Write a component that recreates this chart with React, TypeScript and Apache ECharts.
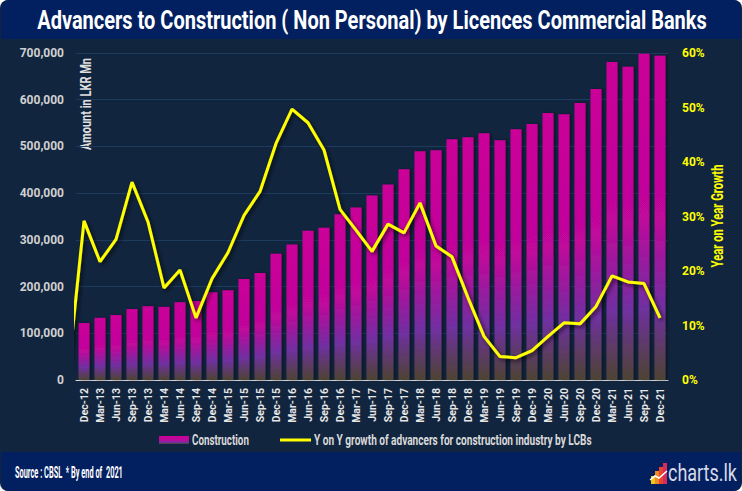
import React, { useEffect, useRef } from "react";
import * as echarts from "echarts";

const categories = [
  "Dec-12","Mar-13","Jun-13","Sep-13","Dec-13","Mar-14","Jun-14","Sep-14","Dec-14",
  "Mar-15","Jun-15","Sep-15","Dec-15","Mar-16","Jun-16","Sep-16","Dec-16",
  "Mar-17","Jun-17","Sep-17","Dec-17","Mar-18","Jun-18","Sep-18","Dec-18",
  "Mar-19","Jun-19","Sep-19","Dec-19","Mar-20","Jun-20","Sep-20","Dec-20",
  "Mar-21","Jun-21","Sep-21","Dec-21",
];

const construction = [
  122000, 133000, 139000, 152000, 158000, 156500, 166500, 169000, 188000,
  192000, 216000, 229000, 270000, 290000, 319500, 326000, 354700,
  369000, 395000, 418600, 451000, 489600, 491800, 515500, 519800,
  528000, 513000, 537000, 548000, 571500, 569000, 593000, 623000,
  681000, 670600, 698600, 694000,
];

// Sep-12 value sits just before the first category and is clipped at the plot edge
const growthPrev = 1.2;
const growth = [
  29.2, 21.7, 25.8, 36.3, 29.0, 16.9, 20.2, 11.4, 18.6,
  23.4, 30.2, 34.6, 43.4, 49.7, 47.2, 42.2, 31.3,
  27.5, 23.6, 28.6, 27.0, 32.5, 24.6, 22.6, 15.1,
  8.0, 4.3, 4.1, 5.4, 8.0, 10.5, 10.3, 13.5,
  19.1, 18.0, 17.7, 11.4,
];

const leftTicks = { min: 0, max: 700000, interval: 100000 };
const rightTicks = { min: 0, max: 60, interval: 10 };

const barName = "Construction";
const lineName = "Y on Y growth of advancers for construction industry by LCBs";
const titleText = "Advancers to Construction ( Non Personal) by Licences Commercial Banks";

const FONT = "Roboto, 'Liberation Sans', sans-serif";

function measure(text: string, font: string): number {
  const c = document.createElement("canvas");
  const ctx = c.getContext("2d");
  if (!ctx) return text.length * 7;
  ctx.font = font;
  return ctx.measureText(text).width;
}

function fitText(text: string, font: string, target: number, base: any) {
  const w = measure(text, font);
  const s = w > 0 ? target / w : 1;
  return {
    type: "text",
    ...base,
    scaleX: s,
    style: { text, font, ...(base.style || {}) },
  };
}

export default function App() {
  const ref = useRef<HTMLDivElement>(null);

  useEffect(() => {
    document.body.style.margin = "0";
    if (!ref.current) return;
    const chart = echarts.init(ref.current, undefined, { renderer: "svg" });

    const lineData: [number, number][] = [[-1, growthPrev]];
    growth.forEach((v, i) => lineData.push([i, v]));

    const gradStops = [
      { offset: 0, color: "#CC0099" },
      { offset: 0.5, color: "#C0079B" },
      { offset: 0.78, color: "#7030A0" },
      { offset: 1, color: "#4D4432" },
    ];
    const barGradient = new echarts.graphic.LinearGradient(0, 0, 0, 1, gradStops);
    const legendGradient = new echarts.graphic.LinearGradient(0, 0, 0, 1, [
      { offset: 0, color: "#CC0099" },
      { offset: 0.55, color: "#B80C9C" },
      { offset: 0.8, color: "#7030A0" },
      { offset: 1, color: "#4D4432" },
    ]);

    const option: any = {
      animation: false,
      backgroundColor: "transparent",
      textStyle: { fontFamily: FONT },
      grid: { left: 76, right: 74, top: 53, bottom: 111, containLabel: false },
      legend: { show: false },
      xAxis: [
        {
          type: "category",
          data: categories,
          boundaryGap: true,
          axisLine: { show: true, lineStyle: { color: "#D9D9D9", width: 1 } },
          axisTick: { show: false },
          axisLabel: {
            rotate: 90,
            interval: 0,
            color: "#E6E6E6",
            fontSize: 10.5,
            fontWeight: "bold",
            fontFamily: FONT,
            margin: 8,
          },
          splitLine: { show: false },
        },
        {
          type: "value",
          min: -0.5,
          max: 36.5,
          show: false,
        },
      ],
      yAxis: [
        {
          type: "value",
          min: leftTicks.min,
          max: leftTicks.max,
          interval: leftTicks.interval,
          axisLine: { show: false },
          axisTick: { show: false },
          axisLabel: {
            color: "#D0D0D0",
            fontSize: 12,
            fontWeight: "bold",
            fontFamily: FONT,
            margin: 12,
            formatter: (v: number) => v.toLocaleString("en-US"),
          },
          splitLine: { show: true, lineStyle: { color: "#1D3A5F", width: 1 } },
        },
        {
          type: "value",
          min: rightTicks.min,
          max: rightTicks.max,
          interval: rightTicks.interval,
          axisLine: { show: false },
          axisTick: { show: false },
          axisLabel: {
            color: "#FFFF00",
            fontSize: 12,
            fontWeight: "bold",
            fontFamily: FONT,
            margin: 14,
            formatter: "{value}%",
          },
          splitLine: { show: false },
        },
      ],
      series: [
        {
          name: barName,
          type: "bar",
          xAxisIndex: 0,
          yAxisIndex: 0,
          data: construction,
          barWidth: 11,
          itemStyle: {
            color: barGradient,
            shadowColor: "rgba(0,0,0,0.45)",
            shadowBlur: 3,
            shadowOffsetX: 2,
            shadowOffsetY: 0,
          },
        },
        {
          name: lineName,
          type: "line",
          xAxisIndex: 1,
          yAxisIndex: 1,
          data: lineData,
          symbol: "none",
          clip: true,
          lineStyle: {
            color: "#FFFF00",
            width: 3,
            shadowColor: "rgba(0,0,0,0.7)",
            shadowBlur: 4,
            shadowOffsetX: 2,
            shadowOffsetY: 2,
          },
          itemStyle: { color: "#FFFF00" },
          z: 5,
        },
      ],
      graphic: [
        {
          type: "rect",
          z: -10,
          shape: { x: 0, y: 0, width: 742, height: 491, r: 8 },
          style: { fill: "#12253F" },
        },
        {
          type: "rect",
          z: -9,
          shape: { x: 1, y: 0, width: 740, height: 39, r: [8, 8, 0, 0] },
          style: { fill: "#02205F" },
        },
        {
          type: "rect",
          z: -9,
          shape: { x: 1, y: 452, width: 740, height: 39, r: [0, 0, 8, 8] },
          style: { fill: "#02205F" },
        },
        fitText(titleText, `bold 25px ${FONT}`, 670, {
          x: 372,
          y: 21,
          style: { fill: "#FFFFFF", align: "center", verticalAlign: "middle" },
        }),
        fitText("Amount in LKR Mn", `bold 14px ${FONT}`, 92, {
          x: 86,
          y: 104,
          rotation: Math.PI / 2,
          style: { fill: "#E0E0E0", align: "center", verticalAlign: "middle" },
        }),
        fitText("Year on Year Growth", `bold 16px ${FONT}`, 103, {
          x: 717,
          y: 216,
          rotation: Math.PI / 2,
          style: { fill: "#FFFF00", align: "center", verticalAlign: "middle" },
        }),
        // legend
        {
          type: "rect",
          shape: { x: 159, y: 436, width: 30, height: 8 },
          style: { fill: legendGradient },
        },
        fitText(barName, `bold 15px ${FONT}`, 57, {
          x: 192,
          y: 440,
          style: { fill: "#D9D9D9", align: "left", verticalAlign: "middle" },
        }),
        {
          type: "line",
          shape: { x1: 280, y1: 440, x2: 311, y2: 440 },
          style: { stroke: "#FFFF00", lineWidth: 3 },
        },
        fitText(lineName, `bold 15px ${FONT}`, 278, {
          x: 314,
          y: 440,
          style: { fill: "#D9D9D9", align: "left", verticalAlign: "middle" },
        }),
        fitText("Source : CBSL  * By end of  2021", `bold 16px ${FONT}`, 108, {
          x: 15,
          y: 472,
          style: { fill: "#FFFFFF", align: "left", verticalAlign: "middle" },
        }),
        // charts.lk logo
        { type: "rect", shape: { x: 651, y: 476, width: 4, height: 8 }, style: { fill: "#F5C518" } },
        { type: "rect", shape: { x: 655, y: 471, width: 4, height: 13 }, style: { fill: "#F08A24" } },
        { type: "rect", shape: { x: 659, y: 467, width: 4, height: 17 }, style: { fill: "#E8442E" } },
        { type: "rect", shape: { x: 663, y: 463, width: 4, height: 21 }, style: { fill: "#D92B5A" } },
        {
          type: "polyline",
          shape: { points: [[650, 480], [655, 476], [659, 478], [667, 471]] },
          style: { stroke: "#FFFFFF", lineWidth: 1.5, fill: "none" },
        },
        fitText("charts.lk", `24px ${FONT}`, 69, {
          x: 668,
          y: 473,
          style: { fill: "#D8D8E8", align: "left", verticalAlign: "middle" },
        }),
      ],
    };

    chart.setOption(option);
    return () => chart.dispose();
  }, []);

  return <div ref={ref} style={{ width: 742, height: 491 }} />;
}
